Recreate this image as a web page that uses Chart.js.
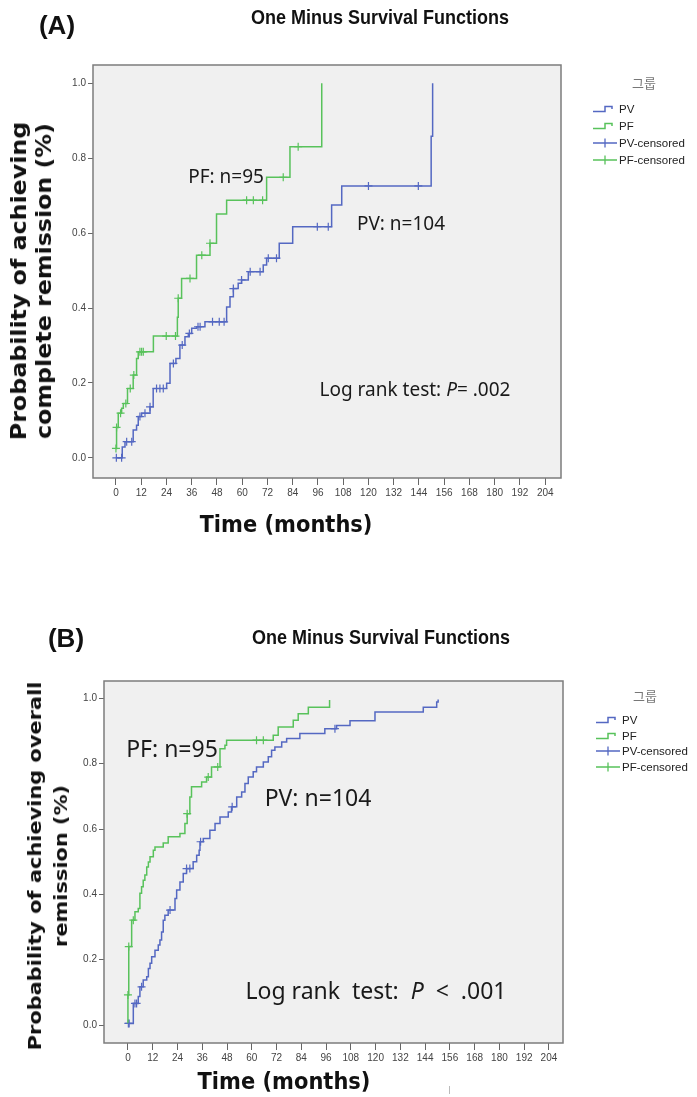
<!DOCTYPE html>
<html>
<head>
<meta charset="utf-8">
<script src="https://cdn.jsdelivr.net/npm/chart.js@4.4.1/dist/chart.umd.min.js"></script>
<style>
body { margin:0; background:#fff; width:697px; height:1097px; position:relative; overflow:hidden; font-family:"Liberation Sans", Arial, sans-serif; }
canvas { position:absolute; left:0; }
.t { position:absolute; white-space:nowrap; line-height:1; transform:translate(-50%,-50%); color:#111; }
.panel { font-weight:bold; font-size:26px; }
.title { font-weight:bold; font-size:18px; transform:translate(-50%,-50%) scaleY(1.1); }
.ytitle { font-family:"DejaVu Sans", sans-serif; font-weight:bold; text-align:center; }
.xtitle { font-family:"DejaVu Sans", sans-serif; font-weight:bold; font-size:21px; transform:translate(-50%,-50%) scaleY(1.13); }
.note { font-family:"Noto Sans", sans-serif; color:#1a1a1a; }
.legend { position:absolute; font-size:11.5px; color:#222; }
.legend .head { position:absolute; font-family:"Noto Sans CJK KR", sans-serif; color:#777; font-size:13px; transform:translate(-50%,-50%); white-space:nowrap; }
.legend .row { position:absolute; display:flex; align-items:center; white-space:nowrap; transform:translateY(-50%); }
.legend svg { margin-right:2px; }
</style>
</head>
<body>
<canvas id="chartA" width="697" height="550" style="top:0"></canvas>
<canvas id="chartB" width="697" height="497" style="top:600px"></canvas>

<!-- panel A texts -->
<div class="t panel" style="left:57px;top:25px">(A)</div>
<div class="t title" style="left:380px;top:17px">One Minus Survival Functions</div>
<div class="t ytitle" style="left:32px;top:281px;font-size:21px;line-height:25px;transform:translate(-50%,-50%) rotate(-90deg) scaleX(1.13)">Probability of achieving<br>complete remission (%)</div>
<div class="t xtitle" style="left:286px;top:525px">Time (months)</div>
<div class="t note" style="left:226px;top:176px;font-size:19px">PF: n=95</div>
<div class="t note" style="left:401px;top:223px;font-size:19px">PV: n=104</div>
<div class="t note" style="left:415px;top:389px;font-size:19px">Log rank test: <i>P</i>= .002</div>
<div class="legend" id="legendA"></div>

<!-- panel B texts -->
<div class="t panel" style="left:66px;top:638px">(B)</div>
<div class="t title" style="left:381px;top:637px">One Minus Survival Functions</div>
<div class="t ytitle" style="left:48px;top:866px;font-size:18.5px;line-height:26px;transform:translate(-50%,-50%) rotate(-90deg) scaleX(1.13)">Probability of achieving overall<br>remission (%)</div>
<div class="t xtitle" style="left:284px;top:1082px">Time (months)</div>
<div class="t note" style="left:172px;top:748px;font-size:23px">PF: n=95</div>
<div class="t note" style="left:318px;top:797px;font-size:23px">PV: n=104</div>
<div class="t note" style="left:376px;top:990px;font-size:23px">Log rank&nbsp; test:&nbsp; <i>P</i>&nbsp; &lt;&nbsp; .001</div>
<div class="legend" id="legendB"></div>
<div style="position:absolute;left:449px;top:1086px;width:1px;height:8px;background:#bbb"></div>

<script>
// axis ticks
const monthTicks = [0, 12, 24, 36, 48, 60, 72, 84, 96, 108, 120, 132, 144, 156, 168, 180, 192, 204];
const probTicks = [0, 0.2, 0.4, 0.6, 0.8, 1.0];
const legendLabels = ['PV', 'PF', 'PV-censored', 'PF-censored'];

// (A) complete remission - step times (months) and 1 - survival after each step
const pvMonthsA = [0, 3.0, 4.3, 8.2, 9.8, 10.6, 12.2, 16.2, 17.7, 24.1, 25.7, 28.5, 30.4, 32.8, 34.4, 36.0, 38.3, 42.3, 52.6, 54.2, 55.8, 58.1, 59.7, 62.9, 70.0, 71.6, 77.6, 84.0, 102.5, 107.3, 149.8, 150.5];
const pvProbA = [0, 0.029, 0.043, 0.074, 0.087, 0.110, 0.119, 0.136, 0.185, 0.199, 0.252, 0.265, 0.301, 0.323, 0.332, 0.346, 0.350, 0.363, 0.403, 0.430, 0.452, 0.466, 0.475, 0.497, 0.515, 0.533, 0.573, 0.617, 0.675, 0.726, 0.859, 1.0];
const pvCensorA = [0.2, 2.7, 5.1, 7.5, 11.4, 13.8, 16.2, 19.3, 20.9, 22.5, 27.3, 31.5, 34.9, 39.0, 40.0, 45.9, 49.1, 51.4, 55.8, 59.7, 63.8, 68.5, 72.4, 76.3, 95.7, 100.9, 120.0, 143.7];

const pfMonthsA = [0, 0.3, 1.1, 2.7, 3.5, 5.5, 8.2, 9.8, 10.6, 17.8, 29.2, 29.6, 31.2, 38.3, 44.7, 47.8, 52.6, 71.6, 82.7, 97.8];
const pfProbA = [0.025, 0.081, 0.119, 0.132, 0.145, 0.185, 0.221, 0.265, 0.283, 0.325, 0.375, 0.426, 0.479, 0.541, 0.573, 0.651, 0.688, 0.749, 0.831, 1.0];
const pfCensorA = [0, 0.3, 2.2, 4.7, 6.8, 8.5, 11.4, 12.2, 13.0, 23.9, 28.3, 29.6, 35.2, 40.8, 44.7, 62.1, 65.3, 69.7, 79.5, 86.6];

// (B) overall remission
const pvMonthsB = [0, 2.6, 5.0, 5.8, 7.4, 9.1, 9.9, 10.7, 11.5, 13.1, 14.7, 15.5, 16.3, 17.1, 17.9, 19.5, 22.8, 23.6, 25.2, 26.8, 28.4, 31.6, 33.3, 34.5, 34.9, 36.5, 39.7, 42.2, 44.6, 48.6, 50.2, 52.7, 55.1, 56.7, 58.3, 60.7, 62.3, 65.6, 68.0, 69.6, 71.2, 74.5, 76.9, 83.3, 95.4, 101.1, 107.6, 119.7, 143.1, 149.6, 150.3];
const pvProbB = [0.005, 0.066, 0.087, 0.117, 0.138, 0.148, 0.173, 0.189, 0.209, 0.229, 0.245, 0.260, 0.285, 0.321, 0.336, 0.352, 0.387, 0.413, 0.438, 0.464, 0.479, 0.500, 0.520, 0.535, 0.561, 0.571, 0.596, 0.617, 0.637, 0.652, 0.668, 0.698, 0.713, 0.739, 0.759, 0.775, 0.790, 0.805, 0.821, 0.841, 0.851, 0.866, 0.877, 0.892, 0.907, 0.917, 0.931, 0.958, 0.973, 0.989, 0.996];
const pvCensorB = [0.2, 0.6, 3.4, 4.2, 6.6, 20.4, 28.4, 30.0, 35.2, 50.5, 100.3];

const pfMonthsB = [0, 0, 0.4, 1.8, 3.4, 5.0, 5.8, 6.6, 7.4, 8.2, 9.1, 9.9, 10.7, 12.3, 13.1, 17.1, 19.5, 25.2, 27.6, 28.7, 30.0, 30.8, 35.7, 38.1, 40.5, 44.6, 47.0, 47.8, 70.4, 72.8, 80.1, 82.5, 87.4, 97.7];
const pfProbB = [0.005, 0.092, 0.240, 0.321, 0.347, 0.357, 0.403, 0.423, 0.443, 0.459, 0.484, 0.499, 0.515, 0.535, 0.545, 0.557, 0.576, 0.586, 0.617, 0.647, 0.698, 0.729, 0.744, 0.759, 0.790, 0.846, 0.856, 0.872, 0.887, 0.912, 0.933, 0.953, 0.973, 0.995];
const pfCensorB = [0, 0.4, 2.6, 28.7, 38.9, 43.5, 62.3, 65.6];

const BLUE = '#5468c2';
const GREEN = '#58c25b';

// value of the step curve at time t (after any step at t)
const stepValue = (times, probs, t) => {
    let v = probs[0];
    for (let i = 0; i < times.length; i++) {
        if (times[i] <= t) v = probs[i];
    }
    return v;
}
const curvePoints = (times, probs) => times.map((t, i) => ({ x: t, y: probs[i] }));
const censorPoints = (cens, times, probs) => cens.map(t => ({ x: t, y: stepValue(times, probs, t) }));

// grey plot background + frame like SPSS
const framePlugin = {
    id: 'frame',
    beforeDraw(chart) {
        const { ctx, chartArea: a } = chart;
        ctx.save();
        ctx.fillStyle = '#f0f0f0';
        ctx.fillRect(a.left, a.top, a.width, a.height);
        ctx.restore();
    },
    afterDraw(chart) {
        const { ctx, chartArea: a } = chart;
        ctx.save();
        ctx.strokeStyle = '#7c7c7c';
        ctx.lineWidth = 1.5;
        ctx.strokeRect(a.left, a.top, a.width, a.height);
        ctx.restore();
    }
};

const makeChart = (id, cfg) => {
    const lineSet = (label, times, probs, color) => ({
        label, data: curvePoints(times, probs), borderColor: color, borderWidth: 1.5,
        stepped: 'before', pointRadius: 0, fill: false
    });
    const censSet = (label, cens, times, probs, color) => ({
        label, type: 'scatter', data: censorPoints(cens, times, probs), showLine: false,
        pointStyle: 'cross', pointRadius: 4, borderColor: color, borderWidth: 1.2
    });
    return new Chart(document.getElementById(id), {
        type: 'line',
        data: {
            datasets: [
                lineSet('PV', cfg.pvT, cfg.pvP, BLUE),
                lineSet('PF', cfg.pfT, cfg.pfP, GREEN),
                censSet('PV-censored', cfg.pvC, cfg.pvT, cfg.pvP, BLUE),
                censSet('PF-censored', cfg.pfC, cfg.pfT, cfg.pfP, GREEN)
            ]
        },
        options: {
            responsive: false,
            animation: false,
            layout: { padding: cfg.padding },
            plugins: { legend: { display: false }, tooltip: { enabled: false } },
            scales: {
                x: {
                    type: 'linear', min: cfg.xMin, max: cfg.xMax,
                    afterBuildTicks: s => { s.ticks = monthTicks.map(v => ({ value: v })) },
                    afterFit: s => { s.height = 30 },
                    ticks: { autoSkip: false, maxRotation: 0, padding: 2, color: '#444', font: { family: 'Liberation Sans', size: 10 } },
                    grid: { drawOnChartArea: false, tickLength: 7, color: '#666' },
                    border: { display: false }
                },
                y: {
                    type: 'linear', min: cfg.yMin, max: cfg.yMax,
                    afterBuildTicks: s => { s.ticks = probTicks.map(v => ({ value: v })) },
                    afterFit: s => { s.width = 40 },
                    ticks: { padding: 2, color: '#444', font: { family: 'Liberation Sans', size: 10 }, callback: v => v.toFixed(1) },
                    grid: { drawOnChartArea: false, tickLength: 5, color: '#666' },
                    border: { display: false }
                }
            }
        },
        plugins: [framePlugin]
    });
}

makeChart('chartA', {
    pvT: pvMonthsA, pvP: pvProbA, pvC: pvCensorA,
    pfT: pfMonthsA, pfP: pfProbA, pfC: pfCensorA,
    xMin: -10.9, xMax: 211.5, yMin: -0.054, yMax: 1.049,
    padding: { left: 53, top: 65, right: 136, bottom: 42 }
});
makeChart('chartB', {
    pvT: pvMonthsB, pvP: pvProbB, pvC: pvCensorB,
    pfT: pfMonthsB, pfP: pfProbB, pfC: pfCensorB,
    xMin: -11.6, xMax: 210.8, yMin: -0.055, yMax: 1.053,
    padding: { left: 64, top: 81, right: 134, bottom: 24 }
});

// legends
const stepIcon = c => `<svg width="24" height="10"><path d="M0 7.5H12V2.5H19V5" fill="none" stroke="${c}" stroke-width="1.5"/></svg>`;
const crossIcon = c => `<svg width="24" height="10"><path d="M0 5H24M12 0.5V9.5" fill="none" stroke="${c}" stroke-width="1.3"/></svg>`;
const legendIcons = [stepIcon(BLUE), stepIcon(GREEN), crossIcon(BLUE), crossIcon(GREEN)];

const buildLegend = (id, headX, headY, iconX, rowsY) => {
    const el = document.getElementById(id);
    let html = `<div class="head" style="left:${headX}px;top:${headY}px">그룹</div>`;
    legendLabels.forEach((lab, i) => {
        html += `<div class="row" style="left:${iconX}px;top:${rowsY[i]}px">${legendIcons[i]}<span>${lab}</span></div>`;
    });
    el.innerHTML = html;
}
buildLegend('legendA', 644, 82, 593, [109, 126, 143, 160]);
buildLegend('legendB', 645, 695, 596, [720, 736, 751, 767]);
</script>
</body>
</html>
